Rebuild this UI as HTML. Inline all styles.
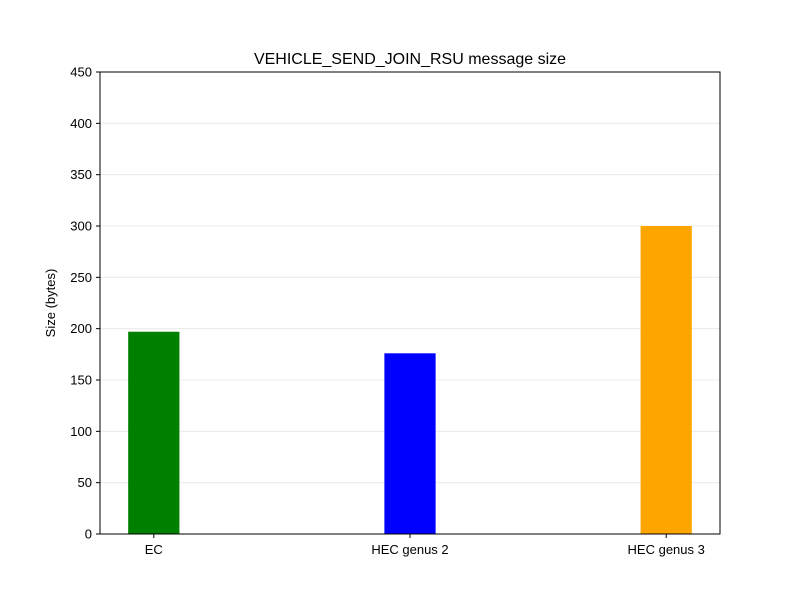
<!DOCTYPE html>
<html><head><meta charset="utf-8"><style>
body{margin:0;background:#fff;}
svg text{font-family:"Liberation Sans","DejaVu Sans",sans-serif;}
</style></head><body>
<svg id="chart" width="800" height="600" xmlns="http://www.w3.org/2000/svg">
<rect width="800" height="600" fill="#fff"/>
<text x="410" y="64" font-size="16" text-anchor="middle">VEHICLE_SEND_JOIN_RSU message size</text>
<g id="grid"></g>
<g id="bars"></g>
<rect x="100" y="72" width="620" height="462" fill="none" stroke="#000" stroke-width="1"/>
<g id="yticks"></g>
<g id="xticks"></g>
<text transform="translate(55,303) rotate(-90)" font-size="13" text-anchor="middle">Size (bytes)</text>
</svg>
<script>
const categories = ["EC", "HEC genus 2", "HEC genus 3"];
const values = [197, 176, 300];
const colors = ["green", "blue", "orange"];
const yTicks = [0, 50, 100, 150, 200, 250, 300, 350, 400, 450];

const L = 100, R = 720, T = 72, B = 534;
const yMin = 0, yMax = 450, xMin = -0.21, xMax = 2.21, barW = 0.2;
const ys = v => B - (v - yMin) / (yMax - yMin) * (B - T);
const xs = v => L + (v - xMin) / (xMax - xMin) * (R - L);
const NS = "http://www.w3.org/2000/svg";
function mk(tag, attrs, parent) {
  const e = document.createElementNS(NS, tag);
  for (const k in attrs) e.setAttribute(k, attrs[k]);
  parent.appendChild(e);
  return e;
}
const grid = document.getElementById("grid"), bars = document.getElementById("bars");
const yt = document.getElementById("yticks"), xt = document.getElementById("xticks");
yTicks.forEach(t => {
  const y = ys(t);
  const g = mk("line", {x1: L, x2: R, y1: y, y2: y, stroke: "#e6e6e6", "stroke-width": 0.8}, grid);
  
  
  const tk = mk("line", {x1: L - 4, x2: L, y1: y, y2: y, stroke: "#000"}, yt);
  
  
  const tx = mk("text", {x: L - 8, y: y + 4.5, "font-size": 13, "text-anchor": "end"}, yt);
  tx.textContent = t;
  
  
});
categories.forEach((c, i) => {
  const x0 = xs(i - barW / 2), x1 = xs(i + barW / 2);
  const r = mk("rect", {x: x0, y: ys(values[i]), width: x1 - x0, height: ys(0) - ys(values[i]), fill: colors[i]}, bars);
  
  
  const cx = xs(i);
  const tk = mk("line", {x1: cx, x2: cx, y1: B, y2: B + 4, stroke: "#000"}, xt);
  
  
  const tx = mk("text", {x: cx, y: B + 20, "font-size": 13, "text-anchor": "middle"}, xt);
  tx.textContent = c;
  
  
});
</script>
</body></html>
